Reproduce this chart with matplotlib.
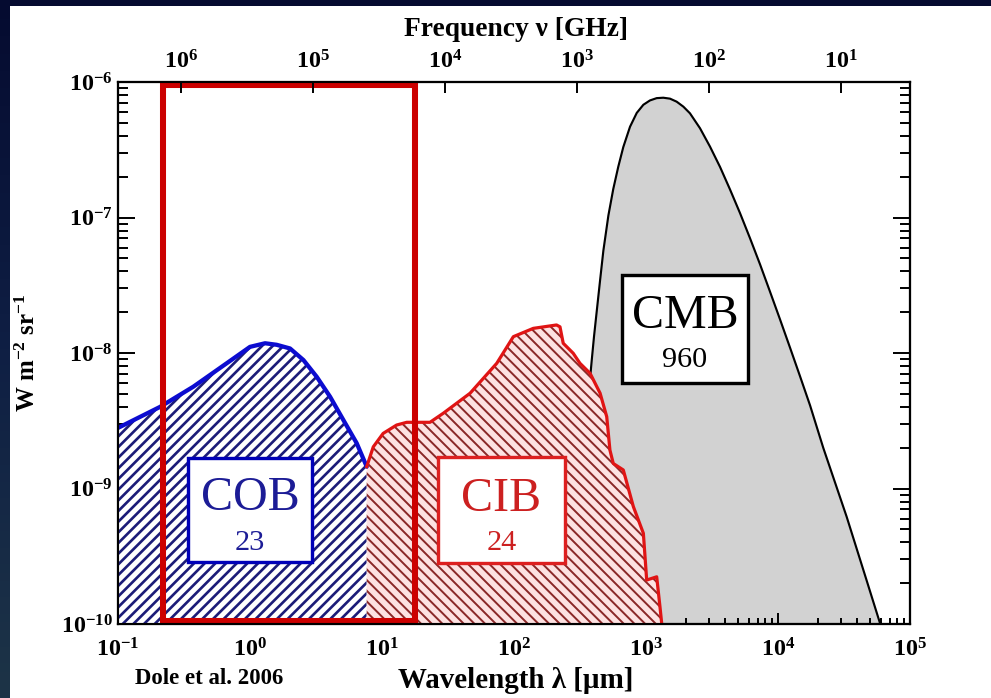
import numpy as np
import matplotlib
matplotlib.use("Agg")
import matplotlib.pyplot as plt
from matplotlib.patches import Rectangle
from matplotlib.colors import LinearSegmentedColormap
from matplotlib.ticker import LogLocator, NullFormatter, NullLocator

plt.rcParams['font.family'] = ['Liberation Serif', 'DejaVu Serif']
plt.rcParams['mathtext.default'] = 'regular'
plt.rcParams['hatch.linewidth'] = 1.5

# Extragalactic background components: wavelength [um] and nu*I_nu [W m^-2 sr^-1]
cob_wavelength = [0.10, 0.208, 0.372, 0.665, 1.00, 1.30, 1.59, 2.01, 2.54, 3.20,
                  4.04, 5.09, 6.43, 7.66]
cob_intensity = [2.80e-9, 4.00e-9, 5.64e-9, 8.39e-9, 1.11e-8, 1.18e-8, 1.15e-8,
                 1.08e-8, 8.87e-9, 6.68e-9, 4.76e-9, 3.21e-9, 2.16e-9, 1.45e-9]

cib_wavelength = [7.66, 8.59, 10.2, 12.9, 15.4, 23.1, 29.1, 46.5, 74.0, 98.9, 140,
                  210, 223, 236, 281, 316, 377, 449, 504, 533, 565, 673, 802, 955,
                  1012, 1205, 1276, 1315]
cib_intensity = [1.45e-9, 2.03e-9, 2.55e-9, 2.94e-9, 3.08e-9, 3.08e-9, 3.59e-9,
                 5.05e-9, 8.39e-9, 1.32e-8, 1.52e-8, 1.61e-8, 1.56e-8, 1.18e-8,
                 9.95e-9, 8.39e-9, 7.08e-9, 5.05e-9, 3.39e-9, 1.92e-9, 1.53e-9,
                 1.37e-9, 7.35e-10, 4.67e-10, 2.11e-10, 2.23e-10, 1.34e-10, 1.01e-10]

cmb_wavelength = [263, 316, 388.2, 403.6, 423.6, 448.7, 475.3, 518.8, 564.9, 616.6,
                  673.0, 756.8, 851.1, 955.0, 1071.5, 1205.0, 1352.1, 1520.6,
                  1706.0, 1918.8, 2152.8, 2564.5, 3054.9, 3639.2, 4325.2, 5152.3,
                  6137.6, 7311.4, 8689.6, 10351, 12331, 14689, 17498, 22029, 33113,
                  46989, 59293]
cmb_intensity = [1.0e-10, 1.0e-9, 8.87e-9, 1.318e-8, 2.042e-8, 3.428e-8, 5.689e-8,
                 1.035e-7, 1.622e-7, 2.371e-7, 3.311e-7, 4.677e-7, 5.916e-7,
                 6.792e-7, 7.311e-7, 7.603e-7, 7.656e-7, 7.534e-7, 7.161e-7,
                 6.577e-7, 5.875e-7, 4.560e-7, 3.334e-7, 2.360e-7, 1.614e-7,
                 1.079e-7, 7.031e-8, 4.508e-8, 2.844e-8, 1.774e-8, 1.096e-8,
                 6.730e-9, 4.102e-9, 1.995e-9, 6.194e-10, 2.089e-10, 1.012e-10]

# Integrated brightness of each component [nW m^-2 sr^-1]
component_names = ['COB', 'CIB', 'CMB']
component_totals = ['23', '24', '960']

wavelength_ticks = [1e-1, 1e0, 1e1, 1e2, 1e3, 1e4, 1e5]
wavelength_labels = [r'$10^{-1}$', r'$10^{0}$', r'$10^{1}$', r'$10^{2}$',
                     r'$10^{3}$', r'$10^{4}$', r'$10^{5}$']
frequency_ticks = [1e6, 1e5, 1e4, 1e3, 1e2, 1e1]
frequency_labels = [r'$10^{6}$', r'$10^{5}$', r'$10^{4}$', r'$10^{3}$',
                    r'$10^{2}$', r'$10^{1}$']
intensity_ticks = [1e-10, 1e-9, 1e-8, 1e-7, 1e-6]
intensity_labels = [r'$10^{-10}$', r'$10^{-9}$', r'$10^{-8}$', r'$10^{-7}$',
                    r'$10^{-6}$']

C_UM_GHZ = 2.99792458e5   # speed of light in um * GHz
X_MIN, X_MAX = 1e-1, 1e5
Y_MIN, Y_MAX = 1e-10, 1e-6

W, H, DPI = 991, 698, 128
fig = plt.figure(figsize=(W / DPI, H / DPI), dpi=DPI)

# slide-style backdrop with a white panel
bg = fig.add_axes([0, 0, 1, 1], zorder=-10)
bg_cmap = LinearSegmentedColormap.from_list('bg', ['#050b30', '#0f1f44', '#1d3447'])
bg.imshow(np.linspace(0, 1, 256)[:, None], aspect='auto', cmap=bg_cmap,
          extent=[0, 1, 0, 1], origin='upper')
bg.add_patch(Rectangle((10 / W, 0), 1, 1 - 6 / H, transform=bg.transAxes,
                       facecolor='white', edgecolor='none'))
bg.set_xlim(0, 1)
bg.set_ylim(0, 1)
bg.set_axis_off()

ax = fig.add_axes([118 / W, 1 - 624 / H, 792 / W, 542 / H])
ax.set_facecolor('white')
ax.set_xscale('log')
ax.set_yscale('log')
ax.set_xlim(X_MIN, X_MAX)
ax.set_ylim(Y_MIN, Y_MAX)

# CMB: grey filled blackbody
ax.fill_between(cmb_wavelength, cmb_intensity, Y_MIN, facecolor='#d2d2d2',
                edgecolor='none', zorder=1)
ax.plot(cmb_wavelength, cmb_intensity, color='black', lw=1.2, zorder=2)

# COB: navy hatching
cob_fill = ax.fill_between(cob_wavelength, cob_intensity, Y_MIN, facecolor='white',
                           edgecolor='#1c1c78', hatch='////', linewidth=0,
                           zorder=3)
# CIB: red hatching on pink
cib_fill = ax.fill_between(cib_wavelength, cib_intensity, Y_MIN, facecolor='#fde2e2',
                           edgecolor='#8a2828', hatch='\\' * 4, linewidth=0,
                           zorder=3)
if hasattr(cob_fill, 'set_hatch_linewidth'):
    cob_fill.set_hatch_linewidth(1.5)
    cib_fill.set_hatch_linewidth(1.1)

ax.plot(cob_wavelength, cob_intensity, color='#0c0cd0', lw=2.4, zorder=5,
        solid_capstyle='round')
ax.plot(cib_wavelength, cib_intensity, color='#e01414', lw=1.8, zorder=5,
        solid_joinstyle='round')

# labelled boxes: (x0, y0, width, height) in axes fraction, text baselines
boxes = [
    ((0.0884, 0.1144, 0.1566, 0.1919), 0.2103, 0.1365, '#0000b8', '#1c1c96'),
    ((0.4040, 0.1125, 0.1604, 0.1956), 0.2085, 0.1365, '#dd2020', '#cc2020'),
    ((0.6364, 0.4446, 0.1591, 0.1993), 0.5461, 0.4742, 'black', 'black'),
]
for name, total, (rect, y_name, y_total, edge, tcol) in zip(component_names,
                                                          component_totals, boxes):
    x0, y0, bw, bh = rect
    ax.add_patch(Rectangle((x0, y0), bw, bh, transform=ax.transAxes,
                           facecolor='white', edgecolor=edge, lw=1.9, zorder=6))
    xc = x0 + bw / 2
    ax.text(xc, y_name, name, transform=ax.transAxes, ha='center', va='baseline',
            fontsize=27, color=tcol, zorder=7)
    ax.text(xc, y_total, total, transform=ax.transAxes, ha='center',
            va='baseline', fontsize=17, color=tcol, zorder=7)

# highlighted optical / near-infrared window
ax.add_patch(Rectangle((0.0568, 0.0055), 0.3182, 0.989, transform=ax.transAxes,
                       fill=False, edgecolor='#cc0000', lw=3.4, zorder=10,
                       clip_on=False, joinstyle='miter'))

# bottom / left / right axes
ax.set_xticks(wavelength_ticks, wavelength_labels)
ax.set_yticks(intensity_ticks, intensity_labels)
ax.xaxis.set_minor_locator(LogLocator(base=10, subs=np.arange(2, 10), numticks=20))
ax.yaxis.set_minor_locator(LogLocator(base=10, subs=np.arange(2, 10), numticks=20))
ax.xaxis.set_minor_formatter(NullFormatter())
ax.yaxis.set_minor_formatter(NullFormatter())
ax.tick_params(which='both', direction='in', top=False, right=True, width=1.1,
               labelsize=13.5)
ax.tick_params(axis='y', which='major', length=9.5, pad=3)
ax.tick_params(axis='y', which='minor', length=5.5)
ax.tick_params(axis='x', which='major', length=6, pad=8)
ax.tick_params(axis='x', which='minor', length=3.5)
for lab in ax.get_xticklabels() + ax.get_yticklabels():
    lab.set_fontweight('bold')
for sp in ax.spines.values():
    sp.set_linewidth(1.2)

# top axis in frequency
ax2 = ax.twiny()
ax2.set_xscale('log')
ax2.set_xlim(ax.get_xlim())
ax2.set_xticks([C_UM_GHZ / f for f in frequency_ticks], frequency_labels)
ax2.xaxis.set_minor_locator(NullLocator())
ax2.tick_params(axis='x', direction='in', length=6, width=1.1, pad=5,
                labelsize=13.5)
for lab in ax2.get_xticklabels():
    lab.set_fontweight('bold')
for sp in ax2.spines.values():
    sp.set_linewidth(1.2)

fig.text(516 / W, 1 - 30 / H, 'Frequency ν [GHz]', ha='center', va='center',
         fontsize=15.5, fontweight='bold')
fig.text(516 / W, 1 - 680 / H, 'Wavelength λ [µm]', ha='center', va='center',
         fontsize=16.3, fontweight='bold')
fig.text(28 / W, 1 - 353 / H, r'W m$^{-2}$ sr$^{-1}$', ha='center', va='center',
         rotation=90, fontsize=14, fontweight='bold')
fig.text(209 / W, 1 - 678 / H, 'Dole et al. 2006', ha='center', va='center',
         fontsize=12.8, fontweight='bold')

fig.savefig('out.png', dpi=DPI)
